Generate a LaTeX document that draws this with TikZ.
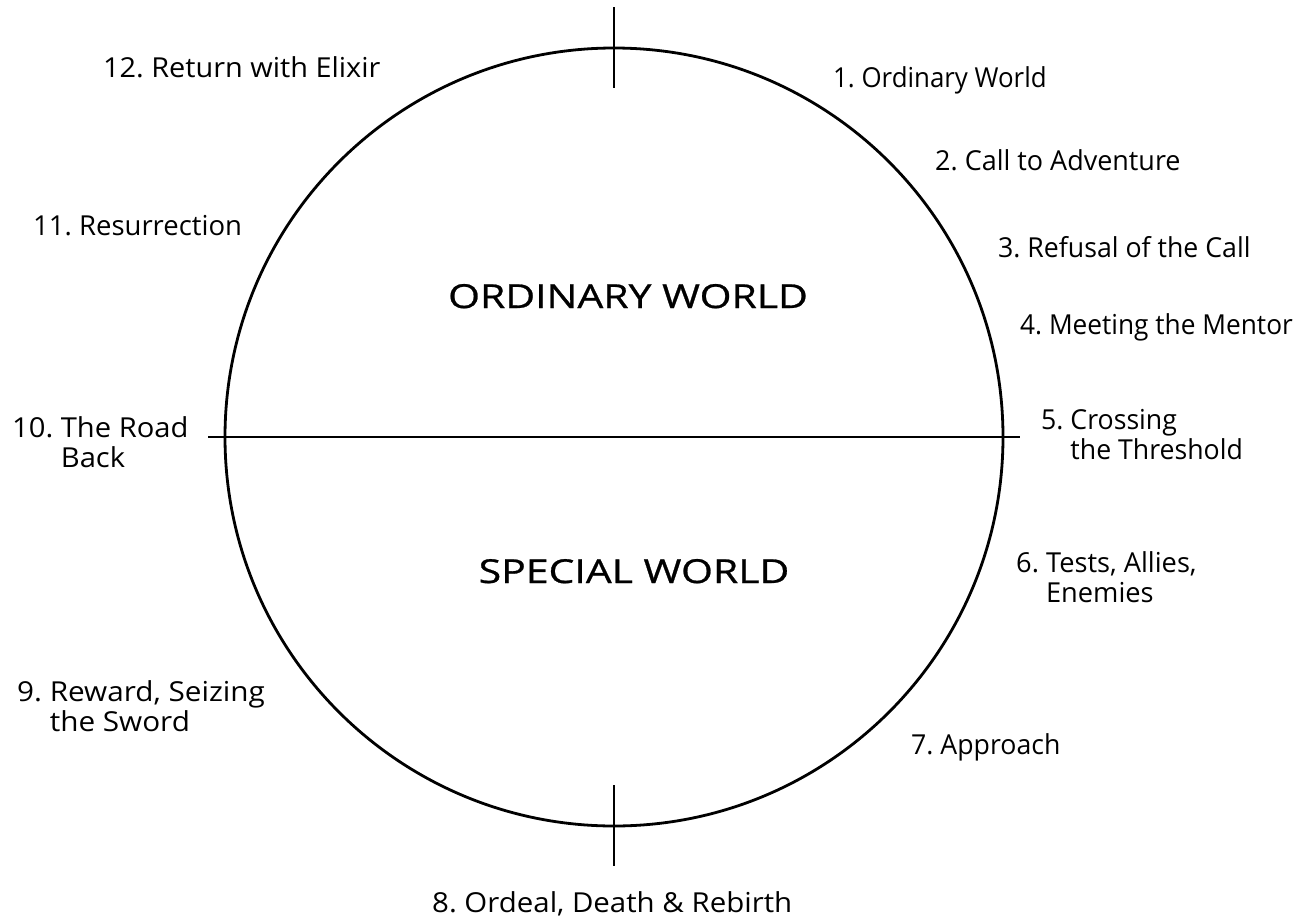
\documentclass[tikz,border=0pt]{standalone}
\usepackage{graphicx}
\usepackage{fontspec}
\setmainfont{Open Sans}[Ligatures=NoCommon]
\newfontfamily\worldfont{Open Sans}[FakeStretch=1.24,FakeBold=0.8]
\frenchspacing
\newcommand{\sxw}[2]{\scalebox{#1}[1]{#2}}
\begin{document}
\begin{tikzpicture}[x=1pt,y=-1pt,
  lbl/.style={anchor=base west,inner sep=0pt,align=left,font=\fontsize{27.5}{30}\selectfont},
  world/.style={anchor=base,inner sep=0pt,font=\worldfont\fontsize{33}{40}\selectfont},
  ln/.style={line width=2.8pt,black}]
\useasboundingbox[fill=white] (0,0) rectangle (1302,921);
\node[circle,draw,ln,minimum size=778pt,inner sep=0pt] (c) at (614,437) {};
\coordinate (tt) at (614,7);
\coordinate (tb) at (614,88);
\coordinate (bt) at (614,785);
\coordinate (bb) at (614,866);
\coordinate (hl) at (208,437);
\coordinate (hr) at (1020,437);
\draw[ln] (tt) -- (tb);
\draw[ln] (bt) -- (bb);
\draw[ln] (hl) -- (hr);
\node[world] (ow) at (628,308) {ORDINARY WORLD};
\node[world] (sw) at (634,583) {SPECIAL WORLD};
\node[lbl] (s1) at (833,87) {\sxw{0.94}{1. Ordinary World}};
\node[lbl] (s2) at (935,170) {\sxw{0.98}{2. Call to Adventure}};
\node[lbl] (s3) at (998,257) {\sxw{0.97}{3. Refusal of the Call}};
\node[lbl] (s4) at (1020,334) {\sxw{0.955}{4. Meeting the Mentor}};
\node[lbl] (s5) at (1041,459) {\sxw{0.97}{5. Crossing}\\\sxw{0.97}{\hphantom{5.\ }the Threshold}};
\node[lbl] (s6) at (1016,602) {\sxw{0.99}{6. Tests, Allies,}\\\sxw{0.99}{\hphantom{6.\ }Enemies}};
\node[lbl] (s7) at (911,754) {\sxw{0.97}{7. Approach}};
\node[lbl] (s8) at (432,912) {\sxw{1.07}{8. Ordeal, Death \& Rebirth}};
\node[lbl] (s9) at (17,731) {\sxw{1.08}{9. Reward, Seizing}\\\sxw{1.08}{\hphantom{9.\ }the Sword}};
\node[lbl] (s10) at (12,467) {\sxw{1.06}{10. The Road}\\\sxw{1.06}{\hphantom{10.\ }Back}};
\node[lbl] (s11) at (33,235) {11. Resurrection};
\node[lbl] (s12) at (103,77) {\sxw{1.05}{12. Return with Elixir}};
\end{tikzpicture}
\end{document}
